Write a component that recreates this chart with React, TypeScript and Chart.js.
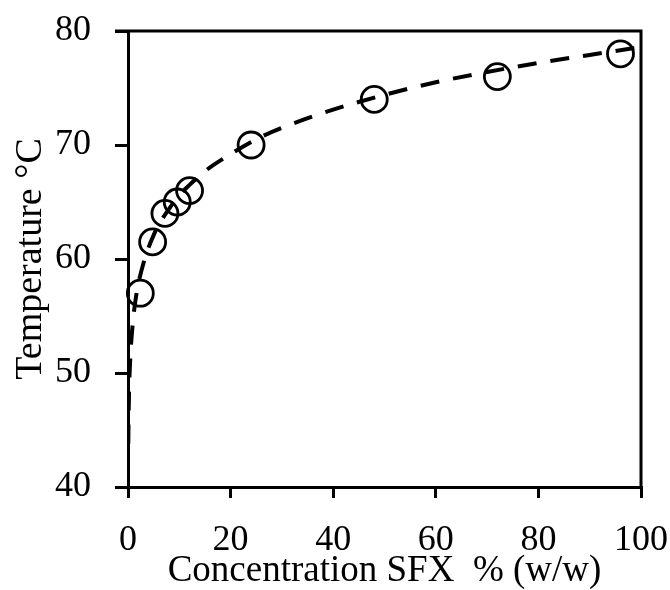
import React, { useEffect, useRef } from "react";
import { Chart, registerables } from "chart.js";

Chart.register(...registerables);

// Measured points
const concentration = [2.4, 4.8, 7.2, 9.6, 12, 24, 48, 72, 96];
const temperature = [57, 61.5, 64, 65, 66, 70, 74, 76, 78];

// Dashed fitted curve
const fitConcentration = [0.06, 0.1, 0.2, 0.3, 0.5, 0.8, 1.2, 1.6, 2, 3, 4, 5, 6, 8, 10, 12, 15, 20, 25, 30, 40, 50, 60, 70, 80, 90, 100];
const fitTemperature = [43.8, 45.6, 48.2, 49.8, 51.8, 53.7, 55.5, 56.8, 57.8, 59.6, 61.0, 62.1, 63.0, 64.4, 65.6, 66.5, 67.7, 69.2, 70.5, 71.5, 73.1, 74.4, 75.5, 76.4, 77.2, 77.9, 78.6];

const xTicks = [0, 20, 40, 60, 80, 100];
const yTicks = [40, 50, 60, 70, 80];

const FONT = "'Liberation Serif', 'DejaVu Serif', serif";
const SIZE = 36;

const framePlugin = {
  id: "frame",
  afterDraw(chart: any) {
    const { ctx, chartArea } = chart;
    ctx.save();
    ctx.strokeStyle = "#000";
    ctx.lineWidth = 3;
    ctx.beginPath();
    ctx.moveTo(chartArea.left - 13, chartArea.top);
    ctx.lineTo(chartArea.right, chartArea.top);
    ctx.lineTo(chartArea.right, chartArea.bottom);
    ctx.stroke();
    ctx.restore();
  },
};

export default function App() {
  const ref = useRef<HTMLCanvasElement>(null);

  useEffect(() => {
    if (!ref.current) return;
    const chart = new Chart(ref.current, {
      type: "scatter",
      data: {
        datasets: [
          {
            label: "fit",
            data: fitConcentration.map((x, i) => ({ x, y: fitTemperature[i] })),
            showLine: true,
            borderColor: "#000",
            borderWidth: 4,
            borderDash: [19, 14],
            pointRadius: 0,
            cubicInterpolationMode: "monotone",
            fill: false,
          },
          {
            label: "data",
            data: concentration.map((x, i) => ({ x, y: temperature[i] })),
            showLine: false,
            pointStyle: "circle",
            pointRadius: 13,
            borderWidth: 2.8,
            borderColor: "#000",
            backgroundColor: "rgba(0,0,0,0)",
            clip: false,
          },
        ],
      },
      options: {
        animation: false,
        responsive: false,
        devicePixelRatio: 1,
        layout: { padding: { left: 0, top: 31, right: 29, bottom: 0 } },
        plugins: {
          legend: { display: false },
          tooltip: { enabled: false },
        },
        scales: {
          x: {
            type: "linear",
            min: 0,
            max: 100,
            afterBuildTicks: (s: any) => {
              s.ticks = xTicks.map((v) => ({ value: v }));
            },
            afterFit: (s: any) => {
              s.height = 103;
              s.paddingLeft = 0;
              s.paddingRight = 0;
            },
            border: { display: true, color: "#000", width: 3 },
            grid: {
              drawOnChartArea: false,
              drawTicks: true,
              tickLength: 11,
              color: "#000",
              lineWidth: 3,
            },
            ticks: {
              color: "#000",
              padding: 21,
              font: { family: FONT, size: SIZE },
              maxRotation: 0,
            },
            title: {
              display: true,
              text: "Concentration SFX  % (w/w)",
              color: "#000",
              font: { family: FONT, size: 37, lineHeight: 1 },
              padding: { top: 0, bottom: 0 },
            },
          },
          y: {
            type: "linear",
            min: 40,
            max: 80,
            afterBuildTicks: (s: any) => {
              s.ticks = yTicks.map((v) => ({ value: v }));
            },
            afterFit: (s: any) => {
              s.width = 128;
              s.paddingTop = 0;
              s.paddingBottom = 0;
            },
            border: { display: true, color: "#000", width: 3 },
            grid: {
              drawOnChartArea: false,
              drawTicks: true,
              tickLength: 13,
              color: "#000",
              lineWidth: 3,
            },
            ticks: {
              color: "#000",
              padding: 24,
              font: { family: FONT, size: SIZE },
            },
            title: {
              display: true,
              text: "Temperature °C",
              color: "#000",
              font: { family: FONT, size: 38, lineHeight: 1 },
              padding: { top: 12, bottom: 0 },
            },
          },
        },
      } as any,
      plugins: [framePlugin],
    });
    return () => chart.destroy();
  }, []);

  return (
    <div style={{ position: "absolute", left: 0, top: 0, width: 670, height: 590, background: "#fff" }}>
      <canvas ref={ref} width={670} height={590} style={{ display: "block", width: 670, height: 590 }} />
    </div>
  );
}
